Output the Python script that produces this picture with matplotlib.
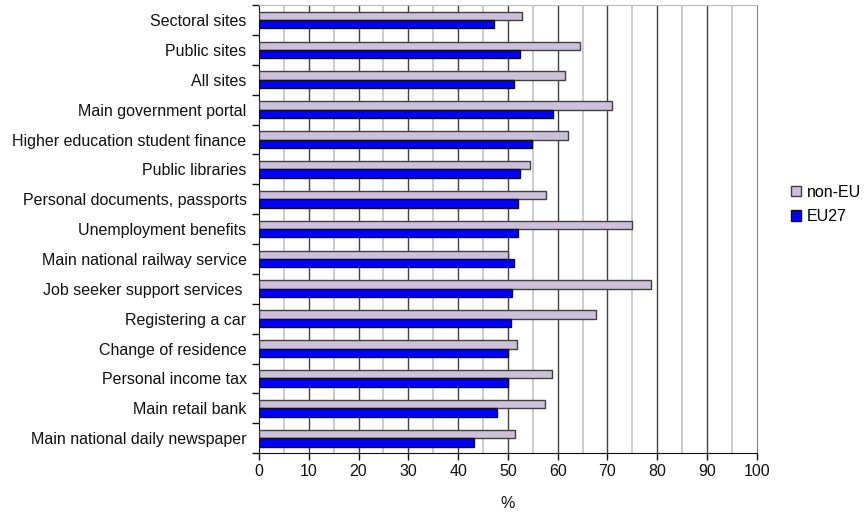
import numpy as np
import matplotlib.pyplot as plt
from matplotlib.ticker import MultipleLocator, FixedLocator

plt.rcParams['font.family'] = ['Liberation Sans', 'DejaVu Sans']

# categories, top to bottom
categories = [
    'Sectoral sites', 'Public sites', 'All sites', 'Main government portal',
    'Higher education student finance', 'Public libraries',
    'Personal documents, passports', 'Unemployment benefits',
    'Main national railway service', 'Job seeker support services ',
    'Registering a car', 'Change of residence', 'Personal income tax',
    'Main retail bank', 'Main national daily newspaper',
]
non_eu = [52.9, 64.5, 61.4, 70.9, 62.0, 54.5, 57.7, 74.9, 50.1, 78.8,
          67.7, 51.8, 58.9, 57.5, 51.5]
eu27 = [47.2, 52.4, 51.2, 59.0, 54.8, 52.4, 52.0, 52.0, 51.2, 50.8,
        50.6, 50.0, 50.0, 47.8, 43.2]

fig = plt.figure(figsize=(8.64, 5.12), dpi=100)
ax = fig.add_axes([0.2998, 0.115, 0.576, 0.875])

y = np.arange(len(categories))
h = 0.28
ax.barh(y - h / 2, non_eu, height=h, color='#CCC0DA', edgecolor='#404040',
        linewidth=1.0, label='non-EU', zorder=3)
ax.barh(y + h / 2, eu27, height=h, color='#0000FF', edgecolor='#111111',
        linewidth=1.0, label='EU27', zorder=3)

ax.set_ylim(len(categories) - 0.5, -0.5)
ax.set_xlim(0, 100)

# grid: light at 5s, dark at 10s
for v in range(5, 100, 10):
    ax.axvline(v, color='#C8C8C8', linewidth=1.3, zorder=1)
for v in range(10, 100, 10):
    ax.axvline(v, color='#404040', linewidth=1.0, zorder=2)

ax.xaxis.set_major_locator(MultipleLocator(10))
ax.set_yticks(y)
ax.set_yticklabels(categories)
ax.yaxis.set_minor_locator(FixedLocator(np.arange(-0.5, len(categories), 1)))
ax.tick_params(axis='y', which='major', length=0, pad=9, labelsize=11.5,
               labelcolor='#111111')
ax.tick_params(axis='y', which='minor', length=5, width=1, color='#111111',
               direction='out')
ax.tick_params(axis='x', length=5, width=1, color='#111111', pad=3,
               labelsize=11.5, labelcolor='#111111')

ax.spines['left'].set_color('#111111')
ax.spines['bottom'].set_color('#111111')
ax.spines['top'].set_color('#BBBBBB')
ax.spines['right'].set_color('#808080')

ax.set_xlabel('%', fontsize=11.5, labelpad=12, color='#111111')

ax.legend(loc='center left', bbox_to_anchor=(1.056, 0.555), frameon=False,
          fontsize=11.5, handlelength=0.65, handleheight=0.65, handletextpad=0.35,
          labelspacing=0.6, borderpad=0.2, borderaxespad=0.2)

fig.savefig('out.png', dpi=100)
